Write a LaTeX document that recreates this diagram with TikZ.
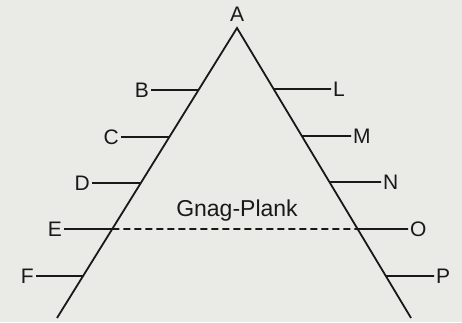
\documentclass[tikz,border=0pt]{standalone}
\usepackage{fontspec}
\setmainfont{Liberation Sans}
\definecolor{bgc}{RGB}{234,234,231}
\definecolor{ink}{RGB}{25,25,25}
\tikzset{
  lbl/.style={inner sep=2pt, text=ink, font=\fontsize{21}{21}\selectfont},
  leg/.style={draw=ink, line width=1.8pt},
  tick/.style={draw=ink, line width=1.8pt},
  plank/.style={draw=ink, line width=1.8pt, dash pattern=on 7pt off 4pt},
}
\begin{document}
\begin{tikzpicture}[x=1pt,y=-1pt]
\fill[bgc] (0,0) rectangle (462,322);
\useasboundingbox (0,0) rectangle (462,322);
% triangle legs
\coordinate (apex) at (237,28);
\coordinate (bl) at (57,318);
\coordinate (br) at (411,318);
\draw[leg] (bl) -- (apex) -- (br);
\node[lbl, anchor=south] (A) at (237,24) {A};
% left side
\foreach \n/\y/\x in {B/90/151, C/137/121, D/183/92, F/276/36} {
  \coordinate (\n l) at (intersection of apex--bl and 0,\y--10,\y);
  \node[lbl, anchor=east] (\n) at (\x,\y) {\n};
  \draw[tick] (\n.east) -- (\n l);
}
% right side
\foreach \n/\y/\x in {L/89/331, M/136/351, N/182/381, P/276/434} {
  \coordinate (\n r) at (intersection of apex--br and 0,\y--10,\y);
  \node[lbl, anchor=west] (\n) at (\x,\y) {\n};
  \draw[tick] (\n r) -- (\n.west);
}
% E and O with the gang plank
\coordinate (El) at (intersection of apex--bl and 0,229--10,229);
\coordinate (Or) at (intersection of apex--br and 0,229--10,229);
\node[lbl, anchor=east] (E) at (64,229) {E};
\node[lbl, anchor=west] (O) at (408,229) {O};
\draw[tick] (E.east) -- (El);
\draw[tick] (Or) -- (O.west);
\draw[plank] (El) -- (Or);
\node[lbl, font=\fontsize{23}{23}\selectfont] (gp) at (237,211) {Gnag-Plank};
\end{tikzpicture}
\end{document}
